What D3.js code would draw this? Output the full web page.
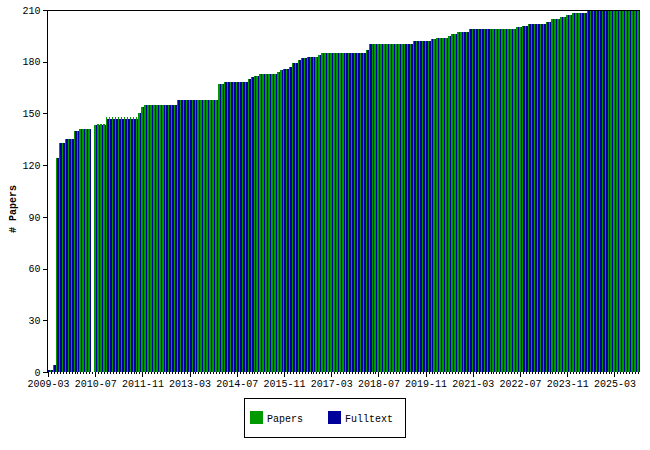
<!DOCTYPE html>
<html>
<head>
<meta charset="utf-8">
<script src="https://cdn.jsdelivr.net/npm/d3@7"></script>
<style>
  html, body { margin: 0; padding: 0; background: #fff; }
  svg { display: block; }
  text { font-family: "Liberation Mono", "DejaVu Sans Mono", monospace; }
</style>
</head>
<body>
<script>
// ---- Data ----
const startMonth = "2009-03";
const monthCount = 201; // 2009-03 .. 2025-11

const papers = [
  1,1,4,124,133,133,135,135,135,140,
  140,141,141,141,141,0,143,144,144,144,
  148,148,148,148,148,148,148,148,148,148,
  148,150,154,155,155,155,155,155,155,155,
  155,155,155,155,158,158,158,158,158,158,
  158,158,158,158,158,158,158,158,167,167,
  168,168,168,168,168,168,168,168,170,171,
  172,172,173,173,173,173,173,173,174,175,
  176,176,177,179,179,181,182,182,183,183,
  183,183,184,185,185,185,185,185,185,185,
  185,185,185,185,185,185,185,185,187,190,
  190,190,190,190,190,190,190,190,190,190,
  190,190,190,190,192,192,192,192,192,192,
  193,193,194,194,194,194,195,196,196,197,
  197,197,197,199,199,199,199,199,199,199,
  199,199,199,199,199,199,199,199,199,200,
  200,201,201,202,202,202,202,202,202,203,
  203,205,205,205,206,206,207,207,208,208,
  208,208,208,210,210,210,210,210,210,210,
  210,210,210,210,210,210,210,210,210,210,
  210
];

const fulltext = [
  1,1,4,124,133,133,135,135,135,140,
  140,141,141,141,141,0,143,143,143,143,
  147,147,147,147,147,147,147,147,147,147,
  147,150,154,155,155,155,155,155,155,155,
  155,155,155,155,158,158,158,158,158,158,
  158,158,158,158,158,158,158,158,167,167,
  168,168,168,168,168,168,168,168,170,171,
  172,172,173,173,173,173,173,173,174,175,
  176,176,177,179,179,181,182,182,183,183,
  183,183,184,185,185,185,185,185,185,185,
  185,185,185,185,185,185,185,185,187,190,
  190,190,190,190,190,190,190,190,190,190,
  190,190,190,190,192,192,192,192,192,192,
  193,193,194,194,194,194,195,196,196,197,
  197,197,197,199,199,199,199,199,199,199,
  199,199,199,199,199,199,199,199,199,200,
  200,201,201,202,202,202,202,202,202,203,
  203,205,205,205,206,206,207,207,208,208,
  208,208,208,210,210,210,210,210,210,210,
  210,210,210,210,210,210,210,210,210,210,
  210
];

const xTickLabels = ["2009-03","2010-07","2011-11","2013-03","2014-07","2015-11",
  "2017-03","2018-07","2019-11","2021-03","2022-07","2023-11","2025-03"];
const yTicks = [0, 30, 60, 90, 120, 150, 180, 210];
const seriesNames = ["Papers", "Fulltext"];
const seriesColors = ["#009a00", "#00009a"];

// month category labels
const fmt = d3.timeFormat("%Y-%m");
const t0 = d3.timeParse("%Y-%m")(startMonth);
const months = d3.range(monthCount).map(i => fmt(d3.timeMonth.offset(t0, i)));

// ---- Layout ----
const W = 650, H = 450;
const mLeft = 47, mRight = 640, mTop = 10, mBottom = 372;

const svg = d3.select("body").append("svg")
  .attr("width", W).attr("height", H);

const x = d3.scaleBand().domain(months).range([mLeft, mRight]).padding(0);
const xs = d3.scaleBand().domain(seriesNames).range([0, x.bandwidth()]).padding(0);
const y = d3.scaleLinear().domain([0, 210]).range([mBottom, mTop]);

svg.append("defs").append("clipPath").attr("id", "plotclip")
  .append("rect").attr("x", mLeft).attr("y", mTop).attr("width", mRight - mLeft + 1).attr("height", mBottom - mTop);

const rows = months.map((m, i) => ({ m, vals: [papers[i], fulltext[i]] }));

const g = svg.append("g").attr("clip-path", "url(#plotclip)");
const clusters = g.selectAll("g.cl").data(rows).join("g")
  .attr("class", "cl")
  .attr("transform", d => `translate(${x(d.m)},0)`);
clusters.selectAll("rect").data(d => d.vals.map((v, j) => ({ v, s: seriesNames[j], c: seriesColors[j] })))
  .join("rect")
  .attr("x", d => xs(d.s))
  .attr("width", xs.bandwidth())
  .attr("y", d => y(d.v))
  .attr("height", d => y(0) - y(d.v))
  .attr("fill", d => d.c)
  .attr("shape-rendering", "crispEdges");

// top border
svg.append("line")
  .attr("x1", mLeft).attr("x2", mRight).attr("y1", mTop + 0.5).attr("y2", mTop + 0.5)
  .attr("stroke", "#000").attr("stroke-width", 1).attr("shape-rendering", "crispEdges");

// y axis
const yAxis = svg.append("g")
  .attr("transform", `translate(${mLeft + 0.5},0)`)
  .call(d3.axisLeft(y).tickValues(yTicks).tickSize(5).tickPadding(2).tickFormat(d3.format("d")));
yAxis.select(".domain").attr("d", `M0,${mTop}V${mBottom}`).attr("stroke", "#000");
yAxis.selectAll(".tick line").attr("stroke", "#000");
yAxis.selectAll("text").attr("font-size", 10).attr("fill", "#000")
  .attr("font-family", "Liberation Mono, DejaVu Sans Mono, monospace");
yAxis.attr("shape-rendering", "crispEdges");

// x axis minor ticks (every month)
const xMinor = svg.append("g")
  .attr("transform", `translate(0,${mBottom})`)
  .call(d3.axisBottom(x).tickSize(2).tickFormat(""));
xMinor.select(".domain").remove();
xMinor.selectAll(".tick line").attr("stroke", "#000");
xMinor.attr("shape-rendering", "crispEdges");

// x axis major ticks with labels
const xMajor = svg.append("g")
  .attr("transform", `translate(0,${mBottom})`)
  .call(d3.axisBottom(x).tickValues(xTickLabels).tickSize(5).tickPadding(3));
xMajor.select(".domain").remove();
xMajor.selectAll(".tick line").attr("stroke", "#000");
xMajor.selectAll("text").attr("font-size", 10).attr("fill", "#000")
  .attr("font-family", "Liberation Mono, DejaVu Sans Mono, monospace");
xMajor.attr("shape-rendering", "crispEdges");

// y label
svg.append("text")
  .attr("transform", `translate(16,209) rotate(-90)`)
  .attr("text-anchor", "middle")
  .attr("font-size", 10).attr("font-weight", "bold")
  .text("# Papers");

// legend
const lg = svg.append("g");
lg.append("rect").attr("x", 244.5).attr("y", 398.5).attr("width", 161).attr("height", 39)
  .attr("fill", "none").attr("stroke", "#000").attr("shape-rendering", "crispEdges");
const legendX = [250, 328];
seriesNames.forEach((s, i) => {
  lg.append("rect").attr("x", legendX[i]).attr("y", 411).attr("width", 13).attr("height", 13)
    .attr("fill", seriesColors[i]);
  lg.append("text").attr("x", legendX[i] + 17).attr("y", 421.5)
    .attr("font-size", 10).text(s);
});
</script>
</body>
</html>
